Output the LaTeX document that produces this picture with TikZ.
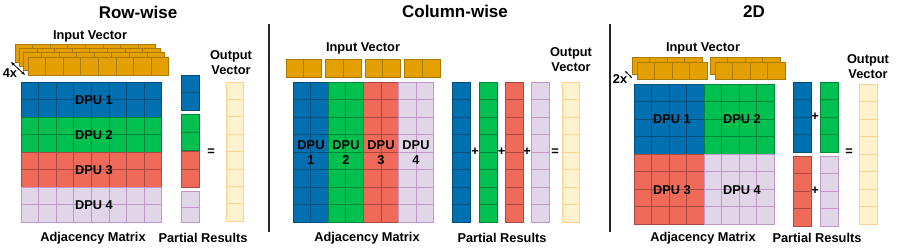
\documentclass[tikz,border=0pt]{standalone}
\definecolor{dpublue}{RGB}{0, 112, 176}
\definecolor{dpugreen}{RGB}{0, 192, 80}
\definecolor{dpured}{RGB}{240, 106, 90}
\definecolor{dpulav}{RGB}{224, 214, 232}
\definecolor{vecgold}{RGB}{228, 160, 0}
\definecolor{outcream}{RGB}{255, 242, 204}
\usepackage{fontspec}
\setmainfont{Liberation Sans}
\usepackage{tikz}
\usetikzlibrary{arrows.meta, positioning}
% grid of cells: x, y, columns, rows, cell width, cell height, style
\newcommand{\cellgrid}[7]{%
  \path[#7] ({#1},{#2}) rectangle ++({#3*#5},{#4*#6});
  \foreach \i in {0,...,#3} \draw[#7] ({#1+\i*#5},{#2}) -- ++(0,{#4*#6});
  \foreach \j in {0,...,#4} \draw[#7] ({#1},{#2+\j*#6}) -- ++({#3*#5},0);
}

\begin{document}
\begin{tikzpicture}[x=1pt, y=-1pt,
  lbl/.style={font=\fontsize{12.8}{15}\selectfont\bfseries, align=center, inner sep=0pt},
  ttl/.style={font=\fontsize{17}{20}\selectfont\bfseries, inner sep=0pt},
  blueblk/.style={fill=dpublue, draw=dpublue!70!black, line width=0.7pt},
  greenblk/.style={fill=dpugreen, draw=dpugreen!70!black, line width=0.7pt},
  redblk/.style={fill=dpured, draw=dpured!70!black, line width=0.7pt},
  lavblk/.style={fill=dpulav, draw=dpulav!70!violet, line width=0.7pt},
  vecblk/.style={fill=vecgold, draw=vecgold!75!black, line width=0.7pt},
  outblk/.style={fill=outcream, draw=outcream!70!orange, line width=0.7pt},
  sepline/.style={draw=black!85, line width=1.8pt}
]
  \useasboundingbox (0,0) rectangle (897,249);

  % Row-wise
  \node[ttl] (rowtitle) at (138,12) {Row-wise};
  \node[lbl] (rowin) at (90,36) {Input Vector};
  \foreach \k in {0,1,2,3}
    \cellgrid{15+4.33*\k}{44+4.33*\k}{8}{1}{17.6}{18}{vecblk};
  \coordinate (rowa) at (11,62);
  \coordinate (rowb) at (25,75);
  \draw[{Stealth[length=4pt]}-{Stealth[length=4pt]}, line width=0.8pt] (rowa) -- (rowb);
  \node[lbl] (rowx) at (10,73) {4x};
  \cellgrid{21}{82}{8}{2}{17.6}{17.5}{blueblk};
  \cellgrid{21}{117}{8}{2}{17.6}{17.5}{greenblk};
  \cellgrid{21}{152}{8}{2}{17.6}{17.5}{redblk};
  \cellgrid{21}{187}{8}{2}{17.6}{17.5}{lavblk};
  \node[lbl] (rowd1) at (94,100) {DPU 1};
  \node[lbl] (rowd2) at (94,135) {DPU 2};
  \node[lbl] (rowd3) at (94,170) {DPU 3};
  \node[lbl] (rowd4) at (94,205) {DPU 4};
  \cellgrid{181}{75}{1}{2}{18}{17.8}{blueblk};
  \cellgrid{181}{114}{1}{2}{18}{18}{greenblk};
  \cellgrid{181}{151.7}{1}{2}{18}{17.8}{redblk};
  \cellgrid{181}{191.7}{1}{2}{18}{15.3}{lavblk};
  \node[lbl] (roweq) at (211,152) {=};
  \cellgrid{226}{82}{1}{8}{17.5}{17.4}{outblk};
  \node[lbl] (rowout) at (231,63) {Output\\Vector};
  \node[lbl] (rowadj) at (93,238) {Adjacency Matrix};
  \node[lbl] (rowpart) at (203,238) {Partial Results};

  % Column-wise
  \coordinate (colsa) at (269,24);
  \coordinate (colsb) at (269,232);
  \draw[sepline] (colsa) -- (colsb);
  \node[ttl] (coltitle) at (455,11) {Column-wise};
  \node[lbl] (colin) at (363,48) {Input Vector};
  \foreach \x in {286,325.5,365,404.5}
    \cellgrid{\x}{59}{2}{1}{17.8}{18}{vecblk};
  \cellgrid{293}{82}{2}{8}{17.6}{17.5}{blueblk};
  \cellgrid{328.2}{82}{2}{8}{17.6}{17.5}{greenblk};
  \cellgrid{363.4}{82}{2}{8}{17.6}{17.5}{redblk};
  \cellgrid{398.6}{82}{2}{8}{17.6}{17.5}{lavblk};
  \node[lbl] (cold1) at (311,153) {DPU\\1};
  \node[lbl] (cold2) at (346,153) {DPU\\2};
  \node[lbl] (cold3) at (381,153) {DPU\\3};
  \node[lbl] (cold4) at (416,153) {DPU\\4};
  \cellgrid{452}{82}{1}{8}{18.5}{17.5}{blueblk};
  \cellgrid{479}{82}{1}{8}{18.5}{17.5}{greenblk};
  \cellgrid{505}{82}{1}{8}{18.5}{17.5}{redblk};
  \cellgrid{531}{82}{1}{8}{18.5}{17.5}{lavblk};
  \node[lbl] (colp1) at (475,152) {+};
  \node[lbl] (colp2) at (501.5,152) {+};
  \node[lbl] (colp3) at (527,152) {+};
  \node[lbl] (coleq) at (555,152) {=};
  \cellgrid{562}{82}{1}{8}{17.5}{17.5}{outblk};
  \node[lbl] (colout) at (571,60) {Output\\Vector};
  \node[lbl] (coladj) at (367,238) {Adjacency Matrix};
  \node[lbl] (colpart) at (502,238) {Partial Results};

  % 2D
  \coordinate (twosa) at (610,24);
  \coordinate (twosb) at (610,232);
  \draw[sepline] (twosa) -- (twosb);
  \node[ttl] (twotitle) at (754,12) {2D};
  \node[lbl] (twoin) at (703,48) {Input Vector};
  \foreach \x in {632,710} {
    \cellgrid{\x}{57}{4}{1}{17.5}{17}{vecblk};
    \cellgrid{\x+5}{62}{4}{1}{17.5}{17}{vecblk};
  }
  \coordinate (twoa) at (625,71);
  \coordinate (twob) at (632,78);
  \draw[{Stealth[length=3pt]}-{Stealth[length=3pt]}, line width=0.7pt] (twoa) -- (twob);
  \node[lbl] (twox) at (620,79) {2x};
  \cellgrid{634}{84}{4}{4}{17.5}{17.5}{blueblk};
  \cellgrid{704}{84}{4}{4}{17.5}{17.5}{greenblk};
  \cellgrid{634}{154}{4}{4}{17.5}{17.5}{redblk};
  \cellgrid{704}{154}{4}{4}{17.5}{17.5}{lavblk};
  \node[lbl] (twod1) at (672,119) {DPU 1};
  \node[lbl] (twod2) at (742,119) {DPU 2};
  \node[lbl] (twod3) at (672,190) {DPU 3};
  \node[lbl] (twod4) at (742,190) {DPU 4};
  \cellgrid{793}{82}{1}{4}{18.5}{17.5}{blueblk};
  \cellgrid{820}{82}{1}{4}{18}{17.5}{greenblk};
  \cellgrid{793}{156}{1}{4}{18.5}{17.5}{redblk};
  \cellgrid{820}{156}{1}{4}{18}{17.5}{lavblk};
  \node[lbl] (twop1) at (815,117) {+};
  \node[lbl] (twop2) at (815,191) {+};
  \node[lbl] (twoeq) at (849,152) {=};
  \cellgrid{859}{84}{1}{8}{18}{17.5}{outblk};
  \node[lbl] (twoout) at (868,67) {Output\\Vector};
  \node[lbl] (twoadj) at (703,238) {Adjacency Matrix};
  \node[lbl] (twopart) at (817,238) {Partial Results};
\end{tikzpicture}
\end{document}
